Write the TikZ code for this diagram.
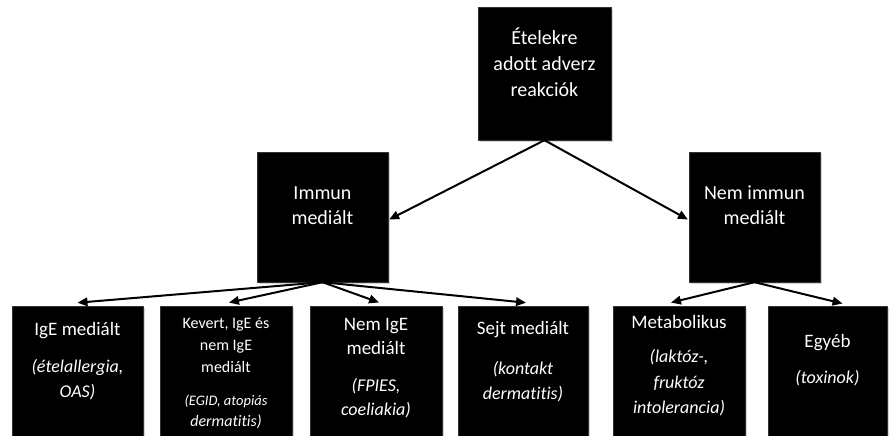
\documentclass[tikz,border=0pt]{standalone}
\usepackage{fontspec}
\setmainfont{Carlito}[Ligatures=NoCommon]
\usetikzlibrary{arrows.meta,shadows}
\begin{document}
\begin{tikzpicture}[x=1pt,y=-1pt,
  box/.style={fill=black, draw=black!80, inner sep=0pt, minimum height=130pt,
    drop shadow={opacity=0.35, shadow xshift=1.5pt, shadow yshift=-2pt}},
  lbl/.style={text=white, anchor=mid, inner sep=0pt},
  big/.style={lbl, font=\fontsize{20}{24}\selectfont},
  mainf/.style={lbl, font=\fontsize{19}{23}\selectfont},
  itf/.style={lbl, font=\fontsize{18}{22}\selectfont\itshape},
  smf/.style={lbl, font=\fontsize{16}{20}\selectfont},
  smit/.style={lbl, font=\fontsize{14.5}{17}\selectfont\itshape},
  arr/.style={line width=2pt, -{Triangle[length=10pt,width=8.5pt]}, shorten >=1pt}]
\useasboundingbox (0,0) rectangle (889,436);
% boxes
\node[box, minimum width=133pt, minimum height=133pt] (top) at (544.5,73.5) {};
\node[box, minimum width=131pt] (imm) at (322.5,217) {};
\node[box, minimum width=131pt] (nim) at (754.5,217) {};
\node[box, minimum width=131pt] (ige) at (77.5,371) {};
\node[box, minimum width=132pt] (kev) at (226,371) {};
\node[box, minimum width=132pt] (nig) at (376,371) {};
\node[box, minimum width=130pt] (sej) at (523,371) {};
\node[box, minimum width=132pt] (met) at (679,371) {};
\node[box, minimum width=119pt] (egy) at (827.5,371) {};
% texts
\node[big] (t1) at (544.5,42) {Ételekre};
\node[big] (t2) at (544.5,68) {adott adverz};
\node[big] (t3) at (544.5,94) {reakciók};
\node[big] (i1) at (322.5,197) {Immun};
\node[big] (i2) at (322.5,222) {mediált};
\node[big] (n1) at (754.5,197) {Nem immun};
\node[big] (n2) at (754.5,222) {mediált};
\node[mainf] (a1) at (77.5,333) {IgE mediált};
\node[itf] (a2) at (77.5,370) {(ételallergia,};
\node[itf] (a3) at (77.5,395) {OAS)};
\node[smf] (b1) at (226,326) {Kevert, IgE és};
\node[smf] (b2) at (226,348) {nem IgE};
\node[smf] (b3) at (226,370) {mediált};
\node[smit] (b4) at (226,403) {(EGID, atopiás};
\node[lbl, font=\fontsize{16}{20}\selectfont\itshape] (b5) at (226,424) {dermatitis)};
\node[mainf] (c1) at (376,328) {Nem IgE};
\node[mainf] (c2) at (376,352) {mediált};
\node[itf] (c3) at (376,389) {(FPIES,};
\node[itf] (c4) at (376,413) {coeliakia)};
\node[mainf] (d1) at (523,332) {Sejt mediált};
\node[itf] (d2) at (523,372) {(kontakt};
\node[itf] (d3) at (523,397) {dermatitis)};
\node[mainf] (e1) at (679,326) {Metabolikus};
\node[itf] (e2) at (679,360) {(laktóz-,};
\node[itf] (e3) at (679,386) {fruktóz};
\node[itf] (e4) at (679,411) {intolerancia)};
\node[mainf] (f1) at (827.5,345) {Egyéb};
\node[itf] (f2) at (827.5,381) {(toxinok)};
% arrows
\draw[arr] (top.south) -- ([yshift=-3pt]imm.east);
\draw[arr] (top.south) -- ([yshift=-3pt]nim.west);
\draw[arr] (imm.south) -- ([xshift=-1pt,yshift=3pt]ige.north);
\draw[arr] (imm.south) -- ([xshift=2pt,yshift=3pt]kev.north);
\draw[arr] (imm.south) -- ([xshift=4pt,yshift=3pt]nig.north);
\draw[arr] (imm.south) -- ([xshift=4pt,yshift=3pt]sej.north);
\draw[arr] (nim.south) -- ([xshift=-9pt,yshift=3pt]met.north);
\draw[arr] (nim.south) -- ([xshift=16pt,yshift=2pt]egy.north);
\end{tikzpicture}
\end{document}
